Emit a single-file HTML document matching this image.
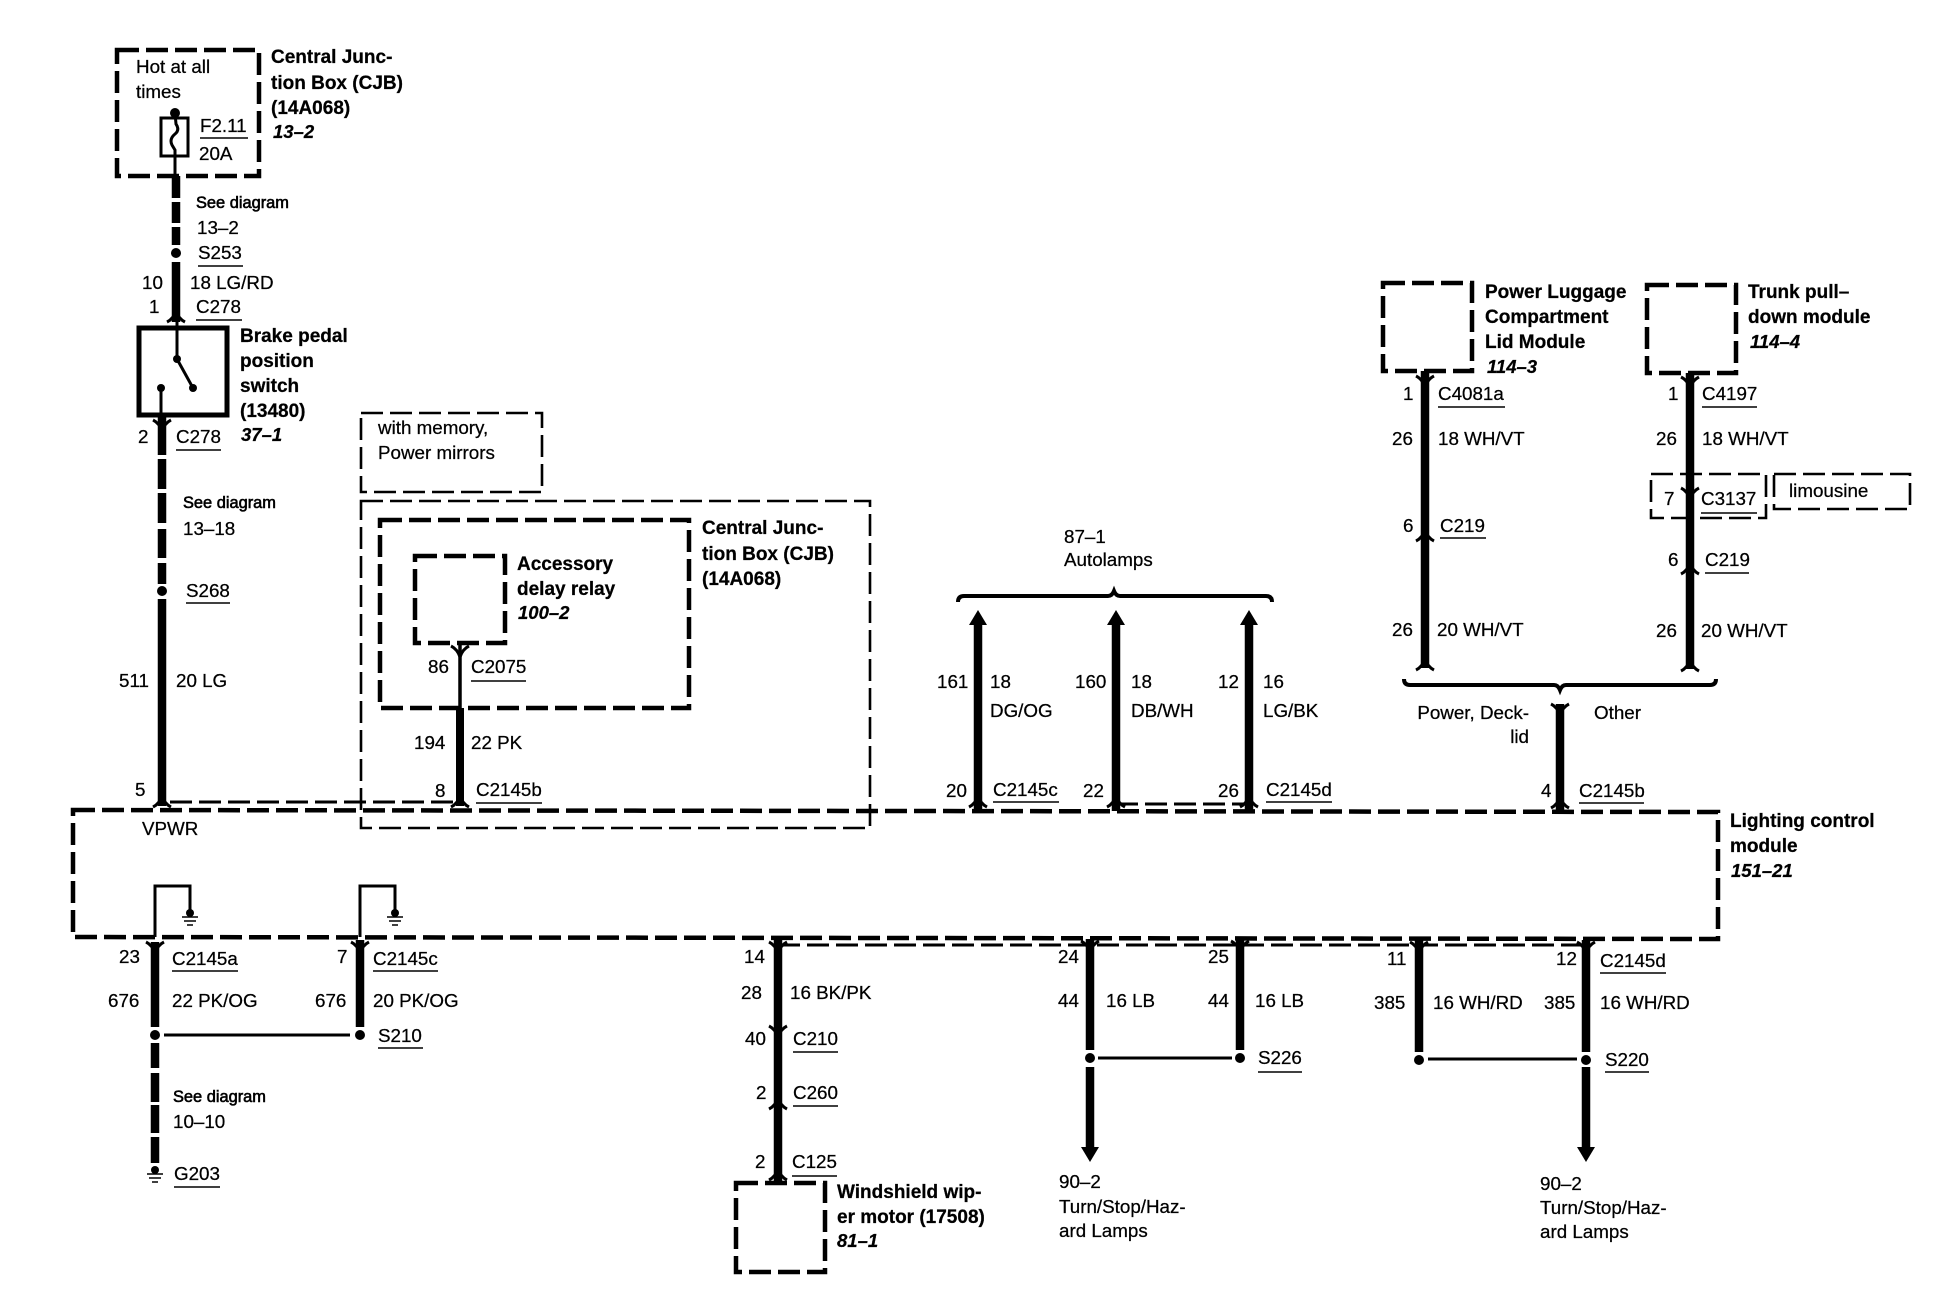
<!DOCTYPE html>
<html><head><meta charset="utf-8"><style>
html,body{margin:0;padding:0;background:#fff}
svg{display:block}
text{font-family:"Liberation Sans",sans-serif;fill:#000;stroke:#000;stroke-width:.25}
.t{font-size:18.8px}
.b{font-size:19px;font-weight:bold}
.i{font-size:18.5px;font-weight:bold;font-style:italic}
.s{font-size:16.4px;stroke-width:.6}
.e{text-anchor:end}
.w{stroke:#000;stroke-width:8.5;fill:none}
.n{stroke:#000;stroke-width:3;fill:none}
.u{stroke:#000;stroke-width:1.6;fill:none}
.d1{stroke:#000;stroke-width:4.5;fill:none;stroke-dasharray:22 7}
.d2{stroke:#000;stroke-width:2.6;fill:none;stroke-dasharray:22 7}
.d3{stroke:#000;stroke-width:3;fill:none;stroke-dasharray:22 7}
.f{stroke:#000;stroke-width:3;fill:none}
</style></head><body>
<svg width="1938" height="1312" viewBox="0 0 1938 1312" xmlns="http://www.w3.org/2000/svg">
<defs>
<path id="up" class="f" d="M-9,4 C-5,2 -2,-1 0,-7 C2,-1 5,2 9,4"/>
<path id="dn" class="f" d="M-9,-4 C-5,-2 -2,1 0,7 C2,1 5,-2 9,-4"/>
<g id="gnd"><circle r="4" cy="0"/><path class="u" stroke-width="2" d="M-8,4H8M-6,8H6M-3,12H3"/></g>
</defs>

<!-- Top fuse block -->
<rect class="d1" x="117" y="50" width="142" height="126"/>
<text class="t" x="136" y="73">Hot at all</text>
<text class="t" x="136" y="98">times</text>
<rect x="161" y="118" width="27" height="38" class="n"/>
<circle cx="175" cy="113" r="5"/>
<path class="n" d="M175,113 L176,124 Q180,130 175,134 Q169,139 172,145 L175,150 L175,176"/>
<text class="t" x="200" y="132">F2.11</text>
<path class="u" d="M200,138H248"/>
<text class="t" x="199" y="160">20A</text>
<text class="b" x="271" y="63">Central Junc-</text>
<text class="b" x="271" y="89">tion Box (CJB)</text>
<text class="b" x="271" y="114">(14A068)</text>
<text class="i" x="273" y="138">13–2</text>

<path class="w" d="M176,176V198M176,202V223M176,227V245M176,262V322"/>
<circle cx="176" cy="253" r="5"/>
<use href="#up" x="176" y="318"/>
<text class="s" x="196" y="208">See diagram</text>
<text class="t" x="197" y="234">13–2</text>
<text class="t" x="198" y="259">S253</text><path class="u" d="M198,266H243"/>
<text class="t" x="142" y="289">10</text>
<text class="t" x="190" y="289">18 LG/RD</text>
<text class="t" x="149" y="313">1</text>
<text class="t" x="196" y="313">C278</text><path class="u" d="M196,320H242"/>

<!-- Brake switch -->
<rect x="139" y="328" width="88" height="87" fill="none" stroke="#000" stroke-width="5"/>
<path class="n" d="M177,320V359"/>
<circle cx="177" cy="359" r="4"/>
<path class="n" d="M177,359L193,388"/>
<circle cx="193" cy="388" r="4"/>
<circle cx="161" cy="388" r="4"/>
<path class="n" d="M161,388V417"/>
<text class="b" x="240" y="342">Brake pedal</text>
<text class="b" x="240" y="367">position</text>
<text class="b" x="240" y="392">switch</text>
<text class="b" x="240" y="417">(13480)</text>
<text class="i" x="241" y="441">37–1</text>

<path class="w" d="M162,417V455M162,459V489M162,493V523M162,529V558M162,563V584M162,599V806"/>
<circle cx="162" cy="591" r="5"/>
<use href="#dn" x="162" y="424"/>
<use href="#up" x="162" y="803"/>
<text class="t" x="138" y="443">2</text>
<text class="t" x="176" y="443">C278</text><path class="u" d="M176,450H221"/>
<text class="s" x="183" y="508">See diagram</text>
<text class="t" x="183" y="535">13–18</text>
<text class="t" x="186" y="597">S268</text><path class="u" d="M186,603H230"/>
<text class="t" x="119" y="687">511</text>
<text class="t" x="176" y="687">20 LG</text>
<text class="t" x="135" y="796">5</text>

<!-- with memory & CJB -->
<rect class="d2" x="361" y="413" width="181" height="79"/>
<text class="t" x="378" y="434">with memory,</text>
<text class="t" x="378" y="459">Power mirrors</text>
<rect class="d2" x="361" y="501" width="509" height="327"/>
<rect class="d1" x="380" y="520" width="309" height="188"/>
<rect class="d1" x="415" y="556" width="90" height="87"/>
<text class="b" x="517" y="570">Accessory</text>
<text class="b" x="517" y="595">delay relay</text>
<text class="i" x="518" y="619">100–2</text>
<text class="b" x="702" y="534">Central Junc-</text>
<text class="b" x="702" y="560">tion Box (CJB)</text>
<text class="b" x="702" y="585">(14A068)</text>
<path stroke="#000" stroke-width="3.5" d="M460,643V708"/>
<path stroke="#000" stroke-width="8" d="M460,708V806"/>
<use href="#dn" x="460" y="650"/>
<use href="#up" x="460" y="803"/>
<text class="t" x="428" y="673">86</text>
<text class="t" x="471" y="673">C2075</text><path class="u" d="M471,681H526"/>
<text class="t" x="414" y="749">194</text>
<text class="t" x="471" y="749">22 PK</text>
<text class="t" x="435" y="797">8</text>
<text class="t" x="476" y="796">C2145b</text><path class="u" d="M476,803H542"/>

<!-- Secondary dashed -->
<path class="d3" d="M170,802H455"/>
<path class="d3" d="M1116,804H1249"/>
<path class="d3" d="M778,945H1583"/>

<!-- Lighting control module -->
<path class="d1" d="M73,810L1718,812L1718,939L73,937Z"/>
<text class="t" x="142" y="835">VPWR</text>
<text class="b" x="1730" y="827">Lighting control</text>
<text class="b" x="1730" y="852">module</text>
<text class="i" x="1731" y="877">151–21</text>

<!-- Internal grounds -->
<path class="n" d="M155,937V886H190V913"/>
<use href="#gnd" x="190" y="913"/>
<path class="n" d="M360,937V886H395V913"/>
<use href="#gnd" x="395" y="913"/>

<!-- Bottom left wires -->
<path class="w" d="M155,942V1027M155,1043V1068M155,1073V1102M155,1105V1133M155,1137V1163"/>
<circle cx="155" cy="1035" r="5"/>
<use href="#dn" x="155" y="946"/>
<use href="#gnd" x="155" y="1170"/>
<path class="w" d="M360,940V1027"/>
<circle cx="360" cy="1035" r="5"/>
<use href="#dn" x="360" y="946"/>
<path class="n" d="M164,1035H350"/>
<text class="t" x="119" y="963">23</text>
<text class="t" x="172" y="965">C2145a</text><path class="u" d="M172,971H238"/>
<text class="t" x="108" y="1007">676</text>
<text class="t" x="172" y="1007">22 PK/OG</text>
<text class="t" x="337" y="963">7</text>
<text class="t" x="373" y="965">C2145c</text><path class="u" d="M373,971H438"/>
<text class="t" x="315" y="1007">676</text>
<text class="t" x="373" y="1007">20 PK/OG</text>
<text class="t" x="378" y="1042">S210</text><path class="u" d="M378,1048H423"/>
<text class="s" x="173" y="1102">See diagram</text>
<text class="t" x="173" y="1128">10–10</text>
<text class="t" x="174" y="1180">G203</text><path class="u" d="M174,1187H220"/>

<!-- Wiper -->
<path class="w" d="M778,939V1184"/>
<use href="#dn" x="778" y="946"/>
<use href="#dn" x="778" y="1030"/>
<use href="#up" x="778" y="1105"/>
<use href="#up" x="778" y="1176"/>
<text class="t" x="744" y="963">14</text>
<text class="t" x="741" y="999">28</text>
<text class="t" x="790" y="999">16 BK/PK</text>
<text class="t" x="745" y="1045">40</text>
<text class="t" x="793" y="1045">C210</text><path class="u" d="M793,1052H838"/>
<text class="t" x="756" y="1099">2</text>
<text class="t" x="793" y="1099">C260</text><path class="u" d="M793,1106H838"/>
<text class="t" x="755" y="1168">2</text>
<text class="t" x="792" y="1168">C125</text><path class="u" d="M792,1176H837"/>
<rect class="d1" x="736" y="1183" width="89" height="89"/>
<text class="b" x="837" y="1198">Windshield wip-</text>
<text class="b" x="837" y="1223">er motor (17508)</text>
<text class="i" x="837" y="1247">81–1</text>

<!-- S226 group -->
<path class="w" d="M1090,939V1050M1090,1067V1148"/>
<use href="#dn" x="1090" y="945"/>
<polygon points="1081,1147 1099,1147 1090,1162"/>
<circle cx="1090" cy="1058" r="5"/>
<path class="w" d="M1240,939V1050"/>
<use href="#dn" x="1240" y="945"/>
<circle cx="1240" cy="1058" r="5"/>
<path class="n" d="M1098,1058H1232"/>
<text class="t" x="1058" y="963">24</text>
<text class="t" x="1058" y="1007">44</text>
<text class="t" x="1106" y="1007">16 LB</text>
<text class="t" x="1208" y="963">25</text>
<text class="t" x="1208" y="1007">44</text>
<text class="t" x="1255" y="1007">16 LB</text>
<text class="t" x="1258" y="1064">S226</text><path class="u" d="M1258,1072H1302"/>
<text class="t" x="1059" y="1188">90–2</text>
<text class="t" x="1059" y="1213">Turn/Stop/Haz-</text>
<text class="t" x="1059" y="1237">ard Lamps</text>

<!-- S220 group -->
<path class="w" d="M1419,940V1052"/>
<use href="#dn" x="1419" y="946"/>
<circle cx="1419" cy="1060" r="5"/>
<path class="w" d="M1586,940V1052M1586,1067V1148"/>
<use href="#dn" x="1586" y="946"/>
<polygon points="1577,1147 1595,1147 1586,1162"/>
<circle cx="1586" cy="1060" r="5"/>
<path class="n" d="M1428,1059H1577"/>
<text class="t" x="1387" y="965">11</text>
<text class="t" x="1374" y="1009">385</text>
<text class="t" x="1433" y="1009">16 WH/RD</text>
<text class="t" x="1556" y="965">12</text>
<text class="t" x="1600" y="967">C2145d</text><path class="u" d="M1600,973H1666"/>
<text class="t" x="1544" y="1009">385</text>
<text class="t" x="1600" y="1009">16 WH/RD</text>
<text class="t" x="1605" y="1066">S220</text><path class="u" d="M1605,1072H1649"/>
<text class="t" x="1540" y="1190">90–2</text>
<text class="t" x="1540" y="1214">Turn/Stop/Haz-</text>
<text class="t" x="1540" y="1238">ard Lamps</text>

<!-- Autolamps -->
<text class="t" x="1064" y="543">87–1</text>
<text class="t" x="1064" y="566">Autolamps</text>
<path stroke="#000" stroke-width="4" fill="none" d="M958,602Q958,596 964,596H1108Q1112,596 1114,591Q1116,596 1120,596H1266Q1272,596 1272,602"/>
<path class="w" d="M978,622V811"/><polygon points="969,625 987,625 978,610"/>
<path class="w" d="M1116,622V811"/><polygon points="1107,625 1125,625 1116,610"/>
<path class="w" d="M1249,622V811"/><polygon points="1240,625 1258,625 1249,610"/>
<use href="#up" x="978" y="803"/>
<use href="#up" x="1116" y="803"/>
<use href="#up" x="1249" y="803"/>
<text class="t" x="937" y="688">161</text>
<text class="t" x="990" y="688">18</text>
<text class="t" x="990" y="717">DG/OG</text>
<text class="t" x="1075" y="688">160</text>
<text class="t" x="1131" y="688">18</text>
<text class="t" x="1131" y="717">DB/WH</text>
<text class="t" x="1218" y="688">12</text>
<text class="t" x="1263" y="688">16</text>
<text class="t" x="1263" y="717">LG/BK</text>
<text class="t" x="946" y="797">20</text>
<text class="t" x="993" y="796">C2145c</text><path class="u" d="M993,802H1059"/>
<text class="t" x="1083" y="797">22</text>
<text class="t" x="1218" y="797">26</text>
<text class="t" x="1266" y="796">C2145d</text><path class="u" d="M1266,802H1332"/>

<!-- Power Luggage -->
<rect class="d1" x="1383" y="283" width="89" height="88"/>
<text class="b" x="1485" y="298">Power Luggage</text>
<text class="b" x="1485" y="323">Compartment</text>
<text class="b" x="1485" y="348">Lid Module</text>
<text class="i" x="1487" y="373">114–3</text>
<path class="w" d="M1425,371V668"/>
<use href="#dn" x="1425" y="380"/>
<use href="#up" x="1425" y="537"/>
<use href="#up" x="1425" y="666"/>
<text class="t" x="1403" y="400">1</text>
<text class="t" x="1438" y="400">C4081a</text><path class="u" d="M1438,407H1505"/>
<text class="t" x="1392" y="445">26</text>
<text class="t" x="1438" y="445">18 WH/VT</text>
<text class="t" x="1403" y="532">6</text>
<text class="t" x="1440" y="532">C219</text><path class="u" d="M1440,538H1486"/>
<text class="t" x="1392" y="636">26</text>
<text class="t" x="1437" y="636">20 WH/VT</text>

<!-- Trunk -->
<rect class="d1" x="1647" y="285" width="89" height="88"/>
<text class="b" x="1748" y="298">Trunk pull–</text>
<text class="b" x="1748" y="323">down module</text>
<text class="i" x="1750" y="348">114–4</text>
<path class="w" d="M1690,373V669"/>
<use href="#dn" x="1690" y="381"/>
<use href="#dn" x="1690" y="492"/>
<use href="#up" x="1690" y="570"/>
<use href="#up" x="1690" y="667"/>
<text class="t" x="1668" y="400">1</text>
<text class="t" x="1702" y="400">C4197</text><path class="u" d="M1702,407H1757"/>
<text class="t" x="1656" y="445">26</text>
<text class="t" x="1702" y="445">18 WH/VT</text>
<rect class="d2" x="1651" y="474" width="115" height="44"/>
<text class="t" x="1664" y="505">7</text>
<text class="t" x="1701" y="505">C3137</text><path class="u" d="M1701,513H1757"/>
<rect class="d2" x="1774" y="474" width="136" height="35"/>
<text class="t" x="1789" y="497">limousine</text>
<text class="t" x="1668" y="566">6</text>
<text class="t" x="1705" y="566">C219</text><path class="u" d="M1705,573H1749"/>
<text class="t" x="1656" y="637">26</text>
<text class="t" x="1701" y="637">20 WH/VT</text>

<!-- Brace & C2145b -->
<path stroke="#000" stroke-width="4" fill="none" d="M1404,679Q1404,685 1410,685H1554Q1558,685 1560,690Q1562,685 1566,685H1710Q1716,685 1716,679"/>
<path class="w" d="M1560,704V810"/>
<use href="#dn" x="1560" y="708"/>
<use href="#up" x="1560" y="804"/>
<text class="t e" x="1529" y="719">Power, Deck-</text>
<text class="t e" x="1529" y="743">lid</text>
<text class="t" x="1594" y="719">Other</text>
<text class="t" x="1541" y="797">4</text>
<text class="t" x="1579" y="797">C2145b</text><path class="u" d="M1579,803H1644"/>
</svg>
</body></html>
